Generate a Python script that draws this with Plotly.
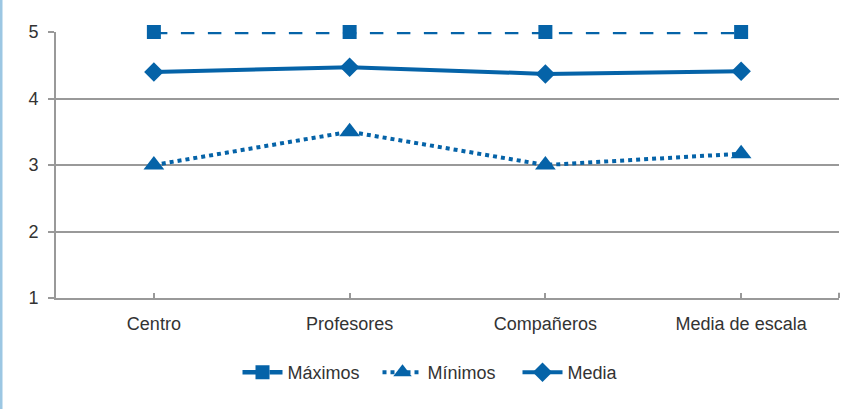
import plotly.graph_objects as go

categories = ["Centro", "Profesores", "Compañeros", "Media de escala"]
maximos = [5, 5, 5, 5]
minimos = [3, 3.5, 3, 3.17]
media = [4.4, 4.47, 4.37, 4.41]
y_ticks = [1, 2, 3, 4, 5]

BLUE = "#0563a8"
GRAY = "#999999"

fig = go.Figure()
fig.add_trace(go.Scatter(x=categories, y=maximos, name="Máximos", mode="lines+markers",
                         line=dict(color=BLUE, width=4.5, dash="dash"), cliponaxis=False,
                         marker=dict(symbol="square", size=14, color=BLUE)))
fig.add_trace(go.Scatter(x=categories, y=minimos, name="Mínimos", mode="lines+markers",
                         line=dict(color=BLUE, width=4, dash="4px,4px"), cliponaxis=False,
                         marker=dict(symbol="triangle-up", size=18, color=BLUE)))
fig.add_trace(go.Scatter(x=categories, y=media, name="Media", mode="lines+markers",
                         line=dict(color=BLUE, width=4), cliponaxis=False,
                         marker=dict(symbol="diamond", size=15, color=BLUE)))

fig.update_layout(
    width=862, height=409,
    margin=dict(l=56, r=23, t=32, b=111),
    paper_bgcolor="white", plot_bgcolor="white",
    font=dict(family="Liberation Sans, Arial, sans-serif", size=18, color="#333333"),
    showlegend=True,
    legend=dict(orientation="h", x=0.5, xanchor="center", y=-0.28, yanchor="middle",
                font=dict(size=18, color="#333333"), itemwidth=40, entrywidth=85),
    xaxis=dict(range=[-0.5, 3.5], showgrid=False, showline=True, linecolor=GRAY, linewidth=2,
               ticks="inside", ticklen=5, tickcolor=GRAY, tickwidth=2, ticklabelstandoff=8,
               zeroline=False, fixedrange=True, automargin=False),
    yaxis=dict(range=[1, 5], tickvals=y_ticks, showgrid=True, gridcolor=GRAY, gridwidth=2,
               showline=True, linecolor=GRAY, linewidth=2, ticks="outside", ticklen=6,
               tickcolor=GRAY, tickwidth=2, ticklabelstandoff=6, zeroline=False, fixedrange=True,
               automargin=False),
    shapes=[
        dict(type="line", xref="paper", yref="paper", x0=1, x1=1, y0=0, y1=0.02,
             line=dict(color=GRAY, width=2)),
        dict(type="line", xref="paper", yref="paper", x0=-55/783, x1=-55/783, y0=-111/266, y1=1 + 32/266,
             line=dict(color="#9cc7e3", width=3)),
    ],
)

fig.write_html("out.html", config={"displayModeBar": False},
               post_script="document.body.style.margin='0';document.body.style.padding='0';")
